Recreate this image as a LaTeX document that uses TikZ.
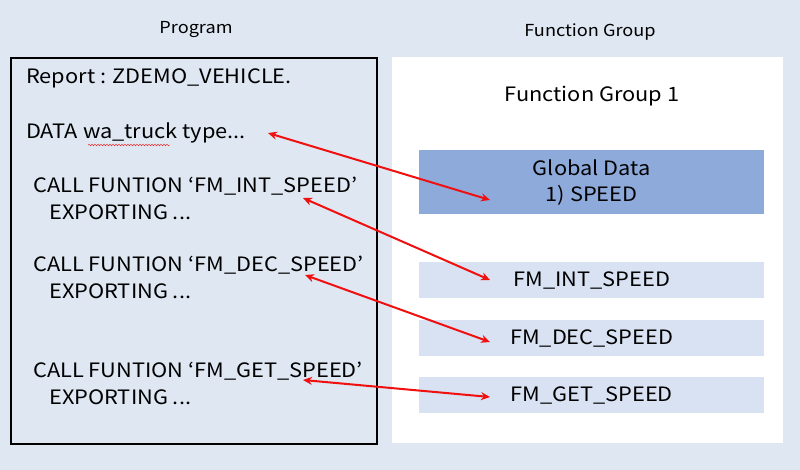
\documentclass[tikz,border=0pt]{standalone}
\usepackage{fontspec}
\setmainfont{Noto Sans CJK KR}[FakeStretch=1.1]
\usetikzlibrary{arrows.meta,decorations.pathmorphing}
\definecolor{bg}{HTML}{DEE7F2}
\definecolor{gd}{HTML}{8EAADB}
\definecolor{fm}{HTML}{D9E2F3}
\definecolor{ar}{HTML}{F01010}
\tikzset{
 code/.style={anchor=west,font=\fontsize{19.8}{27}\selectfont,align=left,inner sep=0pt},
 title/.style={font=\fontsize{16.5}{18}\selectfont,inner sep=0pt},
 fmbox/.style={fill=fm,draw=none,minimum width=345pt,minimum height=36pt,font=\fontsize{19.8}{26}\selectfont,anchor=north west,inner sep=0pt},
 link/.style={ar,line width=2pt,{Stealth[length=9pt,width=8pt]}-{Stealth[length=9pt,width=8pt]}}
}
\begin{document}
\begin{tikzpicture}[x=1pt,y=-1pt]
\fill[bg] (0,0) rectangle (800,470);
\useasboundingbox (0,0) rectangle (800,470);
\fill[white] (392,57) rectangle (783,443);
\draw[line width=2pt] (11,58) rectangle (377,444);
\node[title] (tp) at (196,30) {Program};
\node[title] (tf) at (590,32) {Function Group};
\node[font=\fontsize{19.8}{21}\selectfont,inner sep=0pt] (fg) at (592,96) {Function Group 1};
\node[fmbox,fill=gd,minimum height=64pt,align=center] (gd) at (419,150) {Global Data\\1) SPEED};
\node[fmbox] (f1) at (419,262) {FM\_INT\_SPEED};
\node[fmbox] (f2) at (419,320) {FM\_DEC\_SPEED};
\node[fmbox] (f3) at (419,377) {FM\_GET\_SPEED};
\node[code] (r) at (26,78) {Report : ZDEMO\_VEHICLE.};
\node[code] (d) at (26,133) {DATA wa\_truck type...};
\draw[ar,decorate,decoration={snake,amplitude=0.8pt,segment length=3pt}] (88,145) -- (170,145);
\node[code] (c1) at (33,198) {CALL FUNTION ‘FM\_INT\_SPEED’\\\hspace*{16pt}EXPORTING ...};
\node[code] (c2) at (33,277) {CALL FUNTION ‘FM\_DEC\_SPEED’\\\hspace*{16pt}EXPORTING ...};
\node[code] (c3) at (33,383) {CALL FUNTION ‘FM\_GET\_SPEED’\\\hspace*{16pt}EXPORTING ...};
\coordinate (a0) at (268,133);
\coordinate (a1) at (303,198);
\coordinate (a2) at (305,275);
\coordinate (a3) at (303,380);
\coordinate (b0) at (490,200);
\coordinate (b1) at (490,280);
\coordinate (b2) at (490,342);
\coordinate (b3) at (490,397);
\draw[link] (a0) -- (b0);
\draw[link] (a1) -- (b1);
\draw[link] (a2) -- (b2);
\draw[link] (a3) -- (b3);
\end{tikzpicture}
\end{document}
